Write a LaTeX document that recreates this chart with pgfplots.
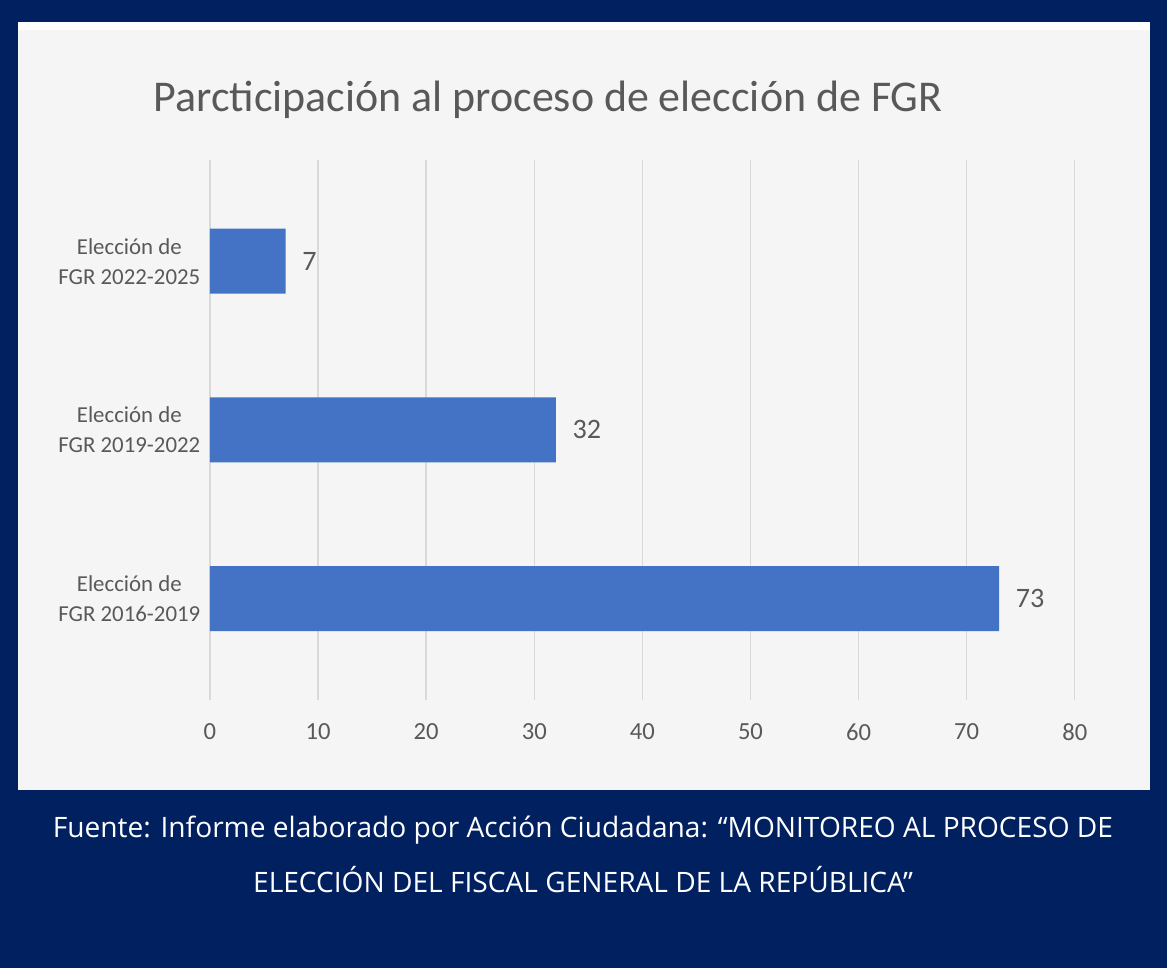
\documentclass[border=0pt]{standalone}
\usepackage{pgfplots}
\pgfplotsset{compat=1.18}
\usepackage{fontspec}
\setmainfont{Carlito}
\newfontfamily\capfont{Open Sans}
\definecolor{navy}{RGB}{0,32,96}
\definecolor{panel}{RGB}{245,245,245}
\definecolor{barblue}{RGB}{68,114,196}
\definecolor{txt}{RGB}{89,89,89}
\definecolor{gridc}{RGB}{217,217,217}
\begin{document}
\begin{tikzpicture}[x=0.02cm,y=-0.02cm]
\fill[navy] (0,0) rectangle (1167,968);
\fill[panel] (18,22) rectangle (1150,790);
\fill[white] (18,22) rectangle (1150,30);
\node[text=txt,font=\fontsize{25}{29}\selectfont] at (548,100) {Parcticipación al proceso de elección de FGR};
\begin{axis}[
  at={(4.2cm,-14cm)}, anchor=south west,
  scale only axis, width=17.3cm, height=10.8cm,
  xmin=0, xmax=80, ymin=-0.6, ymax=2.6,
  xbar, bar width=1.3cm,
  axis line style={draw=none},
  major tick length=0pt,
  xtick={0,10,...,80},
  xmajorgrids, grid style={gridc, line width=0.8pt},
  ytick={0,1,2},
  yticklabels={{Elección de\\FGR 2016-2019},{Elección de\\FGR 2019-2022},{Elección de\\FGR 2022-2025}},
  yticklabel style={align=center, text=txt, font=\fontsize{13}{17}\selectfont, xshift=-2pt},
  xticklabel style={text=txt, font=\fontsize{14}{16}\selectfont, yshift=-10pt},
  /pgf/number format/assume math mode=true,
  nodes near coords,
  nodes near coords style={text=txt, font=\fontsize{16}{18}\selectfont, xshift=6pt},
]
\addplot[fill=barblue, draw=none] coordinates {(73,0) (32,1) (7,2)};
\end{axis}
\node[text=white,font=\capfont\fontsize{16}{19}\selectfont] at (583,830) {Fuente: Informe elaborado por Acción Ciudadana: “MONITOREO AL PROCESO DE};
\node[text=white,font=\capfont\fontsize{16}{19}\selectfont] at (583,880) {ELECCIÓN DEL FISCAL GENERAL DE LA REPÚBLICA”};
\end{tikzpicture}
\end{document}
